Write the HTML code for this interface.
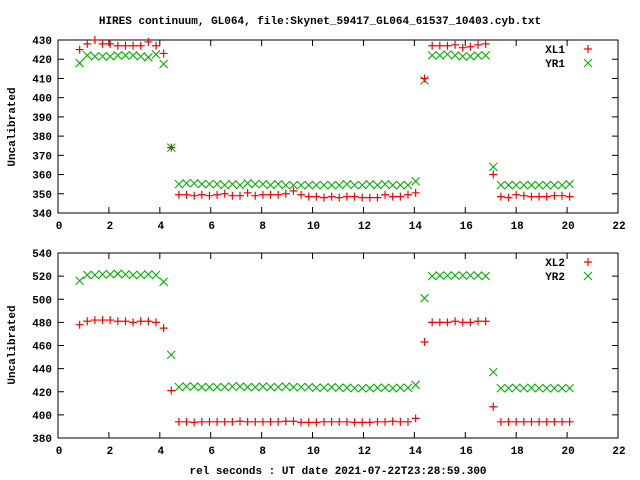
<!DOCTYPE html>
<html><head><meta charset="utf-8"><style>
body{margin:0;background:#fff}
svg{display:block;font-family:"Liberation Mono",monospace;font-weight:bold;font-size:11px}
</style></head><body>
<svg id="c" width="640" height="480">
<text x="320" y="24" text-anchor="middle">HIRES continuum, GL064, file:Skynet_59417_GL064_61537_10403.cyb.txt</text>
<text transform="translate(15,127) rotate(-90)" text-anchor="middle">Uncalibrated</text>
<text transform="translate(15,345) rotate(-90)" text-anchor="middle">Uncalibrated</text>
<text x="338" y="474" text-anchor="middle">rel seconds : UT date 2021-07-22T23:28:59.300</text>
</svg>
<script>
const times=[0.85,1.15,1.45,1.75,2.05,2.35,2.65,2.95,3.25,3.55,3.85,4.15,4.45,
4.75,5.05,5.35,5.65,5.95,6.25,6.55,6.85,7.15,7.45,7.75,8.05,8.35,8.65,8.95,9.25,9.55,9.85,10.15,10.45,10.75,11.05,11.35,11.65,11.95,12.25,12.55,12.85,13.15,13.45,13.75,
14.05,14.4,14.7,15.0,15.3,15.6,15.9,16.2,16.5,16.8,17.1,
17.4,17.7,18.0,18.3,18.6,18.9,19.2,19.5,19.8,20.1];
const xl1=[425,428,430,428,428,427,427,427,427,429,427,423,374,
349.5,349.5,349,349.5,349,349.5,350,349,349,350.5,349,349.5,349.5,349.5,350,351.5,349.5,348.5,348.5,348,348.5,348,348.5,348.5,348,348,348,349.5,348.5,348.5,349.5,
350.5,410,427,427,427,427.5,426,426.5,427.5,428,360,
348.5,348,349.5,349,348.5,348.5,348.5,349,349,348.5];
const yr1=[418,422,421.5,421.5,421.5,422,422,422,421.5,421,422.5,417.5,374,
355,355.5,355.5,355,355,355,354.5,355,354.5,355.5,355,355,354.5,355,354.5,354.5,354.5,354.5,354.5,354.5,354.5,354.5,355,354.5,354.5,355,354.5,355,354.5,354.5,354.5,
356.5,409,422,422,422.5,422,421.5,421.5,422,422,364,
354.5,354.5,354.5,354.5,354.5,354.5,354.5,354.5,354.5,355];
const xl2=[478,481,482,482,482,481,481,480,481,481,480,475,421,
394,394,393.5,394,394,394,394,394,394.5,394,394,394,394,394,394.5,394.5,393.5,393.5,393.5,394,394,394,394,393.5,393.5,393.5,394,394,394.5,394,394,
397,463,480,480,480,481,480,480,481,481,407,
394,394,394,394,394,394,394,394,394,394];
const yr2=[516,521,521,521.5,521.5,522,521.5,521,521,521.5,521,515,452,
424,424.5,424.5,424,424,424,424,424.5,424.5,424,424,424.5,424,424,424.5,424,424,424,423.5,423.5,424,423.5,423.5,423,423,423,423.5,423.5,423,423.5,423.5,
426,501,520,520.5,520.5,520.5,520.5,520.5,520.5,520,437,
423,423,423.5,423,423.5,423,423,423,423,423];
const xTicks=[0,2,4,6,8,10,12,14,16,18,20,22];
const yTicksTop=[340,350,360,370,380,390,400,410,420,430];
const yTicksBot=[380,400,420,440,460,480,500,520,540];

const svg=document.getElementById('c');
const NS='http://www.w3.org/2000/svg';
function mk(tag,attrs){const e=document.createElementNS(NS,tag);for(const k in attrs)e.setAttribute(k,attrs[k]);svg.appendChild(e);return e;}
const L=58,R=618;
function xs(t){return L+t*(R-L)/22;}
function panel(top,bot,vmin,vmax,yTicks,s1,s2,n1,n2,pname){
  const ys=v=>bot-(v-vmin)*(bot-top)/(vmax-vmin);
  const fr=mk('rect',{x:L,y:top,width:R-L,height:bot-top,fill:'none',stroke:'#000','stroke-width':1});
  
  
  xTicks.forEach(t=>{
    const x=xs(t);
    if(t>0&&t<22){mk('line',{x1:x,y1:bot,x2:x,y2:bot-6,stroke:'#000'});mk('line',{x1:x,y1:top,x2:x,y2:top+6,stroke:'#000'});}
    const tx=mk('text',{x:x+1,y:bot+16,'text-anchor':'middle'});tx.textContent=t;
    
    
  });
  yTicks.forEach(v=>{
    const y=ys(v);
    if(v>vmin&&v<vmax){mk('line',{x1:L,y1:y,x2:L+6,y2:y,stroke:'#000'});mk('line',{x1:R,y1:y,x2:R-6,y2:y,stroke:'#000'});}
    const tx=mk('text',{x:52,y:y+4,'text-anchor':'end'});tx.textContent=v;
    
    
  });
  function plus(x,y,nm){const g=mk('path',{d:`M${x-4},${y}h8M${x},${y-4}v8`,stroke:'#f00','stroke-width':1.2,fill:'none'});}
  function cross(x,y,nm){const g=mk('path',{d:`M${x-4},${y-4}l8,8M${x-4},${y+4}l8,-8`,stroke:'#00b000','stroke-width':1.1,fill:'none'});}
  s2.forEach((v,i)=>cross(xs(times[i]),ys(v),pname+'-'+n2.toLowerCase()+'-point'));
  s1.forEach((v,i)=>plus(xs(times[i]),ys(v),pname+'-'+n1.toLowerCase()+'-point'));
  const l1=mk('text',{x:565,y:top+13,'text-anchor':'end'});l1.textContent=n1;
  
  
  plus(588,top+9,pname+'-legend-marker-1');
  const l2=mk('text',{x:565,y:top+27,'text-anchor':'end'});l2.textContent=n2;
  
  
  cross(588,top+23,pname+'-legend-marker-2');
}
panel(40,213,340,430,yTicksTop,xl1,yr1,'XL1','YR1','top');
panel(253,438,380,540,yTicksBot,xl2,yr2,'XL2','YR2','bottom');
</script>
</body></html>
